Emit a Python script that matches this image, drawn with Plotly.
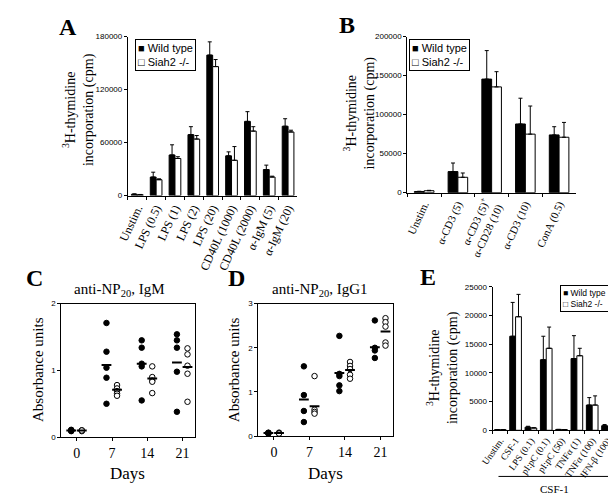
import plotly.graph_objects as go

W, H = 616, 497


def fx(p):
    return p / W


def fy(p):
    return 1 - p / H


# ---------------- Panel A: B-cell proliferation ----------------
cats_A = ["Unstim.", "LPS (0.5)", "LPS (1)", "LPS (2)", "LPS (20)",
          "CD40L (1000)", "CD40L (2000)", "α-IgM (5)", "α-IgM (20)"]
wt_A = [1500, 21000, 46000, 69000, 159000, 45000, 84000, 29500, 78500]
wt_A_err = [500, 5500, 11500, 9000, 15000, 4500, 11000, 5000, 8500]
ko_A = [1000, 18000, 42000, 64000, 146000, 40000, 73000, 21000, 72000]
ko_A_err = [300, 1000, 2000, 4000, 8000, 15500, 5000, 1000, 2000]
ticks_A = [0, 60000, 120000, 180000]

# ---------------- Panel B: T-cell proliferation ----------------
cats_B = ["Unstim.", "α-CD3 (5)", "α-CD3 (5)<sup>+</sup><br>α-CD28 (10)",
          "α-CD3 (10)", "ConA (0.5)"]
wt_B = [1500, 27000, 145500, 88000, 74000]
wt_B_err = [300, 11000, 36500, 33000, 10500]
ko_B = [2500, 19700, 135500, 75000, 71000]
ko_B_err = [500, 5500, 19500, 36000, 19000]
ticks_B = [0, 50000, 100000, 150000, 200000]

# ---------------- Panel C: anti-NP20 IgM ----------------
days = [0, 7, 14, 21]
C_wt_vals = [[0.10, 0.11, 0.10, 0.09, 0.10],
             [1.71, 1.28, 1.04, 0.89, 0.50],
             [1.45, 1.34, 1.10, 1.06, 0.55],
             [1.54, 1.45, 1.34, 0.98, 0.38]]
C_ko_vals = [[0.10, 0.09, 0.10, 0.10],
             [0.78, 0.73, 0.69, 0.65, 0.62],
             [1.06, 0.90, 0.85, 0.83, 0.66],
             [1.33, 1.24, 1.07, 0.95, 0.53]]
C_wt_mean = [0.10, 1.08, 1.10, 1.12]
C_ko_mean = [0.10, 0.71, 0.88, 1.05]

# ---------------- Panel D: anti-NP20 IgG1 ----------------
D_wt_vals = [[0.07, 0.08, 0.07, 0.06],
             [1.58, 0.93, 0.57, 0.32],
             [2.27, 1.41, 1.36, 1.15, 1.02],
             [2.62, 2.00, 1.94, 1.77]]
D_ko_vals = [[0.07, 0.08, 0.07, 0.06],
             [1.36, 0.60, 0.55, 0.51],
             [1.68, 1.59, 1.52, 1.39, 1.30],
             [2.67, 2.58, 2.48, 2.12, 2.05]]
D_wt_mean = [0.07, 0.83, 1.43, 2.01]
D_ko_mean = [0.07, 0.68, 1.50, 2.37]

# ---------------- Panel E: macrophage proliferation ----------------
cats_E = ["Unstim.", "CSF-1", "LPS (0.1)", "pI:pC (0.1)", "pI:pC (50)",
          "TNFα (1)", "TNFα (100)", "IFN-β (100)"]
wt_E = [100, 16400, 550, 12300, 150, 12500, 4400, 800]
wt_E_err = [0, 5900, 150, 4100, 0, 4000, 1300, 200]
ko_E = [100, 19800, 400, 14300, 120, 13000, 4400, 400]
ko_E_err = [0, 3900, 50, 3700, 0, 1300, 1600, 500]
ticks_E = [0, 5000, 10000, 15000, 20000, 25000]

SERIF = "Liberation Serif"
SANS = "Liberation Sans"

fig = go.Figure()


def add_bars(xa, ya, cats, wt, wt_err, ko, ko_err, w):
    n = len(cats)
    fig.add_trace(go.Bar(
        x=cats, y=wt, xaxis=xa, yaxis=ya, width=[w] * n, offset=-w,
        name="Wild type", showlegend=False,
        marker=dict(color="black", line=dict(color="black", width=1)),
        error_y=dict(type="data", symmetric=False, array=wt_err,
                     arrayminus=[0] * n, color="black", thickness=1, width=2)))
    fig.add_trace(go.Bar(
        x=cats, y=ko, xaxis=xa, yaxis=ya, width=[w] * n, offset=0,
        name="Siah2 -/-", showlegend=False,
        marker=dict(color="white", line=dict(color="black", width=1)),
        error_y=dict(type="data", symmetric=False, array=ko_err,
                     arrayminus=[0] * n, color="black", thickness=1, width=2)))


add_bars("x", "y", cats_A, wt_A, wt_A_err, ko_A, ko_A_err, 0.31)
add_bars("x2", "y2", cats_B, wt_B, wt_B_err, ko_B, ko_B_err, 0.29)
add_bars("x5", "y5", cats_E, wt_E, wt_E_err, ko_E, ko_E_err, 0.38)


def add_scatter(xa, ya, vals, means, shift, filled):
    xs, ys = [], []
    for d, v in zip(days, vals):
        xs += [d + shift] * len(v)
        ys += v
    fig.add_trace(go.Scatter(
        x=xs, y=ys, xaxis=xa, yaxis=ya, mode="markers", showlegend=False,
        marker=dict(symbol="circle", size=5.5,
                    color="black" if filled else "white",
                    line=dict(color="black", width=1))))
    fig.add_trace(go.Scatter(
        x=[d + shift for d in days], y=means, xaxis=xa, yaxis=ya,
        mode="markers", showlegend=False,
        marker=dict(symbol="line-ew", size=7,
                    line=dict(color="black", width=2))))


add_scatter("x3", "y3", C_wt_vals, C_wt_mean, -1.1, True)
add_scatter("x3", "y3", C_ko_vals, C_ko_mean, 1.0, False)
add_scatter("x4", "y4", D_wt_vals, D_wt_mean, -1.1, True)
add_scatter("x4", "y4", D_ko_vals, D_ko_mean, 1.0, False)

common = dict(showgrid=False, zeroline=False, showline=True, linecolor="black",
              linewidth=1, ticks="outside", ticklen=3, tickwidth=1,
              tickcolor="black")


def bar_x(x0, x1, y_anchor, n, angle, size):
    return dict(common, domain=[fx(x0), fx(x1)], anchor=y_anchor,
                type="category", range=[-0.5, n - 0.5], tickson="boundaries",
                tickangle=angle, tickfont=dict(family=SERIF, size=size,
                                               color="black"))


def bar_y(y0, y1, x_anchor, rng, tv):
    return dict(common, domain=[fy(y0), fy(y1)], anchor=x_anchor,
                range=rng, tickvals=tv, tickformat="d",
                tickfont=dict(family=SANS, size=8, color="black"))


def sc_x(x0, x1, y_anchor):
    return dict(common, domain=[fx(x0), fx(x1)], anchor=y_anchor,
                range=[-3.1, 23.4], tickvals=days, mirror=True,
                tickfont=dict(family=SERIF, size=14, color="black"))


def sc_y(y0, y1, x_anchor, rng, tv):
    return dict(common, domain=[fy(y0), fy(y1)], anchor=x_anchor,
                range=rng, tickvals=tv, mirror=True,
                tickfont=dict(family=SANS, size=8, color="black"))


fig.update_layout(
    width=W, height=H, autosize=False,
    margin=dict(l=0, r=0, t=0, b=0),
    paper_bgcolor="white", plot_bgcolor="white",
    barmode="overlay", showlegend=False,
    xaxis=bar_x(110, 283, "y", len(cats_A), -65, 12),
    yaxis=bar_y(187, 25, "x", [0, 180000], ticks_A),
    xaxis2=bar_x(395, 567, "y2", len(cats_B), -65, 11),
    yaxis2=bar_y(184, 25, "x2", [0, 200000], ticks_B),
    xaxis3=sc_x(42, 178, "y3"),
    yaxis3=sc_y(433, 297, "x3", [0, 2], [0, 1, 2]),
    xaxis4=sc_x(243, 380, "y4"),
    yaxis4=sc_y(432, 297, "x4", [0, 3], [0, 1, 2, 3]),
    xaxis5=bar_x(482, 607, "y5", len(cats_E), -55, 9.5),
    yaxis5=bar_y(426, 280, "x5", [0, 25000], ticks_E),
)

ann = []


def text(x, y, s, size, family=SERIF, angle=0, xanchor="center",
         yanchor="middle", **kw):
    ann.append(dict(x=fx(x), y=fy(y), xref="paper", yref="paper", text=s,
                    showarrow=False, textangle=angle, xanchor=xanchor,
                    yanchor=yanchor, font=dict(family=family, size=size,
                                               color="black"), **kw))


# panel letters
for lab, x, y in [("A", 49, 15), ("B", 333, 13), ("C", 15, 271),
                  ("D", 221, 271), ("E", 416, 270)]:
    text(x, y, "<b>" + lab + "</b>", 24)

ytl = "<sup>3</sup>H-thymidine<br>incorporation (cpm)"
text(59, 99, ytl, 14, angle=-90)
text(346, 103, ytl, 14, angle=-90)
text(431, 362, ytl, 14, angle=-90)

text(101, 283, "anti-NP<sub>20</sub>, IgM", 15)
text(306, 283, "anti-NP<sub>20</sub>, IgG1", 15)
text(19, 364, "Absorbance units", 15, angle=-90)
text(219, 364, "Absorbance units", 15, angle=-90)
text(110, 470, "Days", 17)
text(312, 470, "Days", 17)

leg = "■ Wild type<br>□ Siah2 -/-"
for x, y, size in [(117, 27, 11), (397, 27, 11), (551, 278, 8.5)]:
    text(x, y, leg, size, family=SANS, xanchor="left", yanchor="top",
         align="left", bordercolor="black", borderwidth=1, borderpad=2,
         bgcolor="white")

text(545, 486, "CSF-1", 11)
fig.update_layout(annotations=ann)
fig.add_shape(type="line", xref="paper", yref="paper", x0=fx(488), x1=fx(603),
              y0=fy(473), y1=fy(473), line=dict(color="black", width=1))

fig.write_html("out.html")
